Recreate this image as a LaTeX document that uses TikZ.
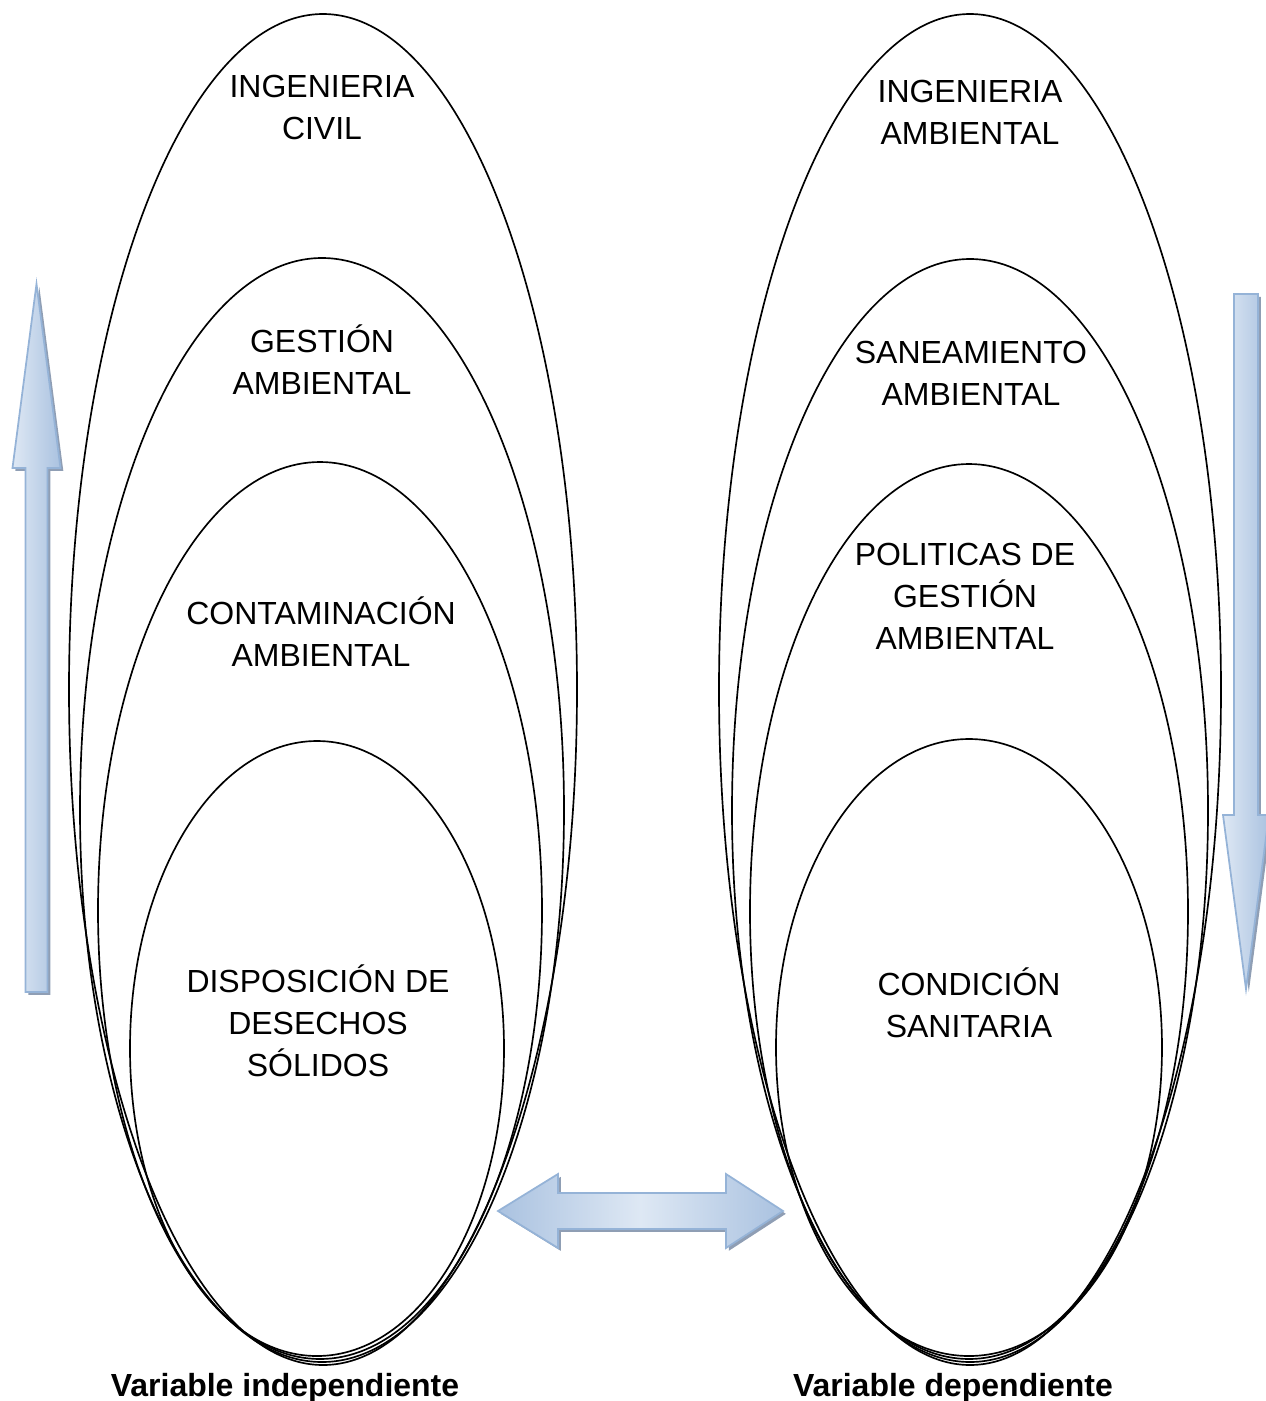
\documentclass[tikz,border=0pt]{standalone}
\usepackage{fontspec}
\setmainfont{Liberation Sans}
\usepackage{tikz}
\usetikzlibrary{calc}

\definecolor{arrowline}{RGB}{149,179,215}
\definecolor{arrowlight}{RGB}{222,232,244}
\definecolor{arrowdark}{RGB}{170,194,224}
\definecolor{arrowshadow}{RGB}{143,158,180}

\tikzset{
    ring/.style={draw=black, line width=0.95pt},
    ringtext/.style={anchor=base, align=center, inner sep=0pt, font=\fontsize{18.2}{23.8}\selectfont},
    vartext/.style={anchor=base, inner sep=0pt, font=\bfseries\fontsize{18.2}{23.8}\selectfont},
    blockarrow/.style={draw=arrowline, line width=1pt, line join=miter,
        preaction={fill=arrowshadow, transform canvas={xshift=1.6pt, yshift=-1.6pt}}}
}

\begin{document}
\begin{tikzpicture}[x=0.02cm, y=-0.02cm]
\useasboundingbox (0,0) rectangle (1266,1401); % page frame

%%% LEFT RINGS %%%
\draw[ring] (323,689.5) ellipse [x radius=254, y radius=675.5]; % outer ring
\draw[ring] (322,810) ellipse [x radius=242, y radius=552]; % second ring
\draw[ring] (320,910.5) ellipse [x radius=222, y radius=448.5]; % third ring
\draw[ring] (317,1048.5) ellipse [x radius=187, y radius=307.5]; % inner ring

%%% RIGHT RINGS %%%
\draw[ring] (970,689.5) ellipse [x radius=251, y radius=675.5]; % outer ring
\draw[ring] (970,810.5) ellipse [x radius=238, y radius=551.5]; % second ring
\draw[ring] (969,911.5) ellipse [x radius=219, y radius=447.5]; % third ring
\draw[ring] (969,1047.5) ellipse [x radius=193, y radius=308.5]; % inner ring

%%% LEFT TEXTS %%% (base = last line)
\node[ringtext] (civil) at (322,139) {INGENIERIA\\CIVIL};
\node[ringtext] (gestion) at (322,394) {GESTIÓN\\AMBIENTAL};
\node[ringtext] (contamina) at (321,666) {CONTAMINACIÓN\\AMBIENTAL};
\node[ringtext] (desechos) at (318,1076) {DISPOSICIÓN DE\\DESECHOS\\SÓLIDOS};

%%% RIGHT TEXTS %%%
\node[ringtext] (ambiental) at (970,144) {INGENIERIA\\AMBIENTAL};
\node[ringtext] (saneamiento) at (971,405) {SANEAMIENTO\\AMBIENTAL};
\node[ringtext] (politicas) at (965,649) {POLITICAS DE\\GESTIÓN\\AMBIENTAL};
\node[ringtext] (sanitaria) at (969,1037) {CONDICIÓN\\SANITARIA};

%%% VARIABLES %%%
\node[vartext] (indep) at (285,1396) {Variable independiente};
\node[vartext] (dep) at (953,1396) {Variable dependiente};

%%% BLOCK ARROWS %%%
\draw[blockarrow, left color=arrowlight, right color=arrowdark]
    (36.5,284) -- (60.5,468) -- (47.5,468) -- (47.5,992) -- (25.5,992) -- (25.5,468) -- (12.5,468) -- cycle; % up arrow
\draw[blockarrow, left color=arrowlight, right color=arrowdark]
    (1234,294) -- (1258,294) -- (1258,815) -- (1269,815) -- (1246,989) -- (1223,815) -- (1234,815) -- cycle; % down arrow
\draw[blockarrow, left color=arrowdark, right color=arrowdark, middle color=arrowlight]
    (498,1211) -- (558,1174) -- (558,1193) -- (726,1193) -- (726,1174) -- (783,1211)
    -- (726,1248) -- (726,1229) -- (558,1229) -- (558,1248) -- cycle; % double arrow
\end{tikzpicture}
\end{document}
